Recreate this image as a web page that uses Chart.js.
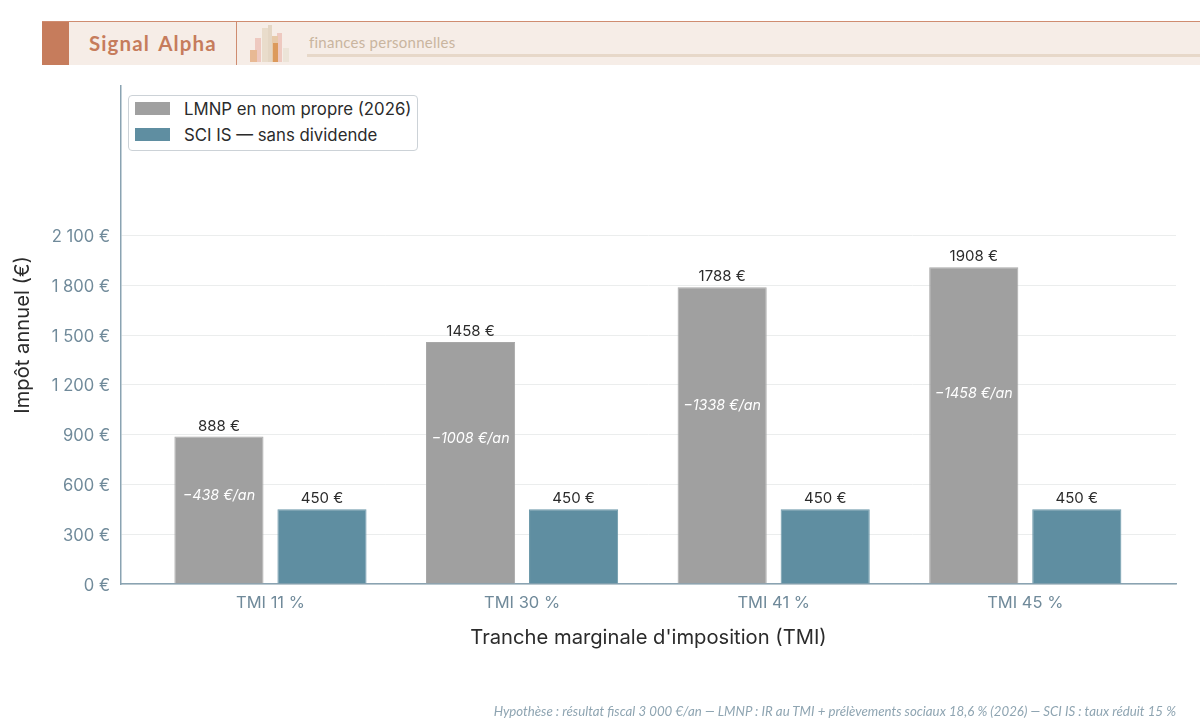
<!DOCTYPE html>
<html lang="fr">
<head>
<meta charset="utf-8">
<title>LMNP vs SCI IS</title>
<script src="https://cdn.jsdelivr.net/npm/chart.js@4"></script>
<style>
    html, body { margin: 0; padding: 0; background: #fff; }
    #page { position: relative; width: 1200px; height: 721px; overflow: hidden; font-family: Inter, sans-serif; }
    #chartCanvas { position: absolute; left: 0; top: 0; }
    #banner { position: absolute; left: 42px; top: 21px; width: 1158px; height: 44px; background: #f6ede7; border-top: 1px solid #cf8c70; box-sizing: border-box; }
    #bannerMark { position: absolute; left: 0; top: 0; width: 27px; height: 43px; background: #c67c5c; }
    #bannerName { position: absolute; left: 47px; top: 9px; font: bold 20.5px Lato, sans-serif; color: #c67c5c; letter-spacing: 1.1px; word-spacing: 3px; }
    #bannerSep { position: absolute; left: 194px; top: 0; width: 1px; height: 43px; background: #cf8c70; }
    #bannerTag { position: absolute; left: 267px; top: 11px; font: 15px Lato, sans-serif; color: #c9b59f; letter-spacing: 0.25px; }
    #bannerRule { position: absolute; left: 265px; top: 32px; right: 0; height: 3px; background: #e7d8c9; }
    .deco { position: absolute; }
    #legendBox { position: absolute; left: 128px; top: 95px; width: 290px; height: 56px; box-sizing: border-box; border: 1px solid #ccd2d7; border-radius: 4px; background: #fff; }
    .legendRow { position: absolute; left: 6px; height: 25px; font-size: 16.8px; line-height: 25px; color: #2b2b2b; white-space: nowrap; }
    .legendRow i { position: absolute; left: 0; top: 6px; width: 35px; height: 13px; }
    .legendRow span { position: absolute; left: 49px; top: 1px; }
    #footNote { position: absolute; right: 24px; top: 703px; font: italic 13.25px Lato, sans-serif; color: #8fa5b2; white-space: nowrap; }
</style>
</head>
<body>
<div id="page">
    <canvas id="chartCanvas" width="1200" height="721"></canvas>
    <div id="banner">
        <div id="bannerMark"></div>
        <div id="bannerName">Signal Alpha</div>
        <div id="bannerSep"></div>
        <div class="deco" style="left:213px;top:16px;width:6px;height:24px;background:#eec9c0"></div>
        <div class="deco" style="left:208px;top:28px;width:7px;height:12px;background:#e8b994"></div>
        <div class="deco" style="left:220px;top:6px;width:6px;height:34px;background:#e9dccb"></div>
        <div class="deco" style="left:226px;top:3px;width:4px;height:37px;background:#e4d6c4"></div>
        <div class="deco" style="left:235px;top:11px;width:5px;height:29px;background:#eec9c0"></div>
        <div class="deco" style="left:230px;top:14px;width:6px;height:26px;background:#e7c9a8"></div>
        <div class="deco" style="left:231px;top:21px;width:5px;height:19px;background:#dc9a5c"></div>
        <div class="deco" style="left:241px;top:26px;width:6px;height:14px;background:#ece4d8"></div>
        <div id="bannerTag">finances personnelles</div>
        <div id="bannerRule"></div>
    </div>
    <div id="legendBox"></div>
    <div id="footNote">Hypothèse : résultat fiscal 3 000 €/an — LMNP : IR au TMI + prélèvements sociaux 18,6 % (2026) — SCI IS : taux réduit 15 %</div>
</div>
<script>
// valeurs
const categories = ["TMI 11 %", "TMI 30 %", "TMI 41 %", "TMI 45 %"];
const lmnpValues = [888, 1458, 1788, 1908];
const sciValues = [450, 450, 450, 450];
const savingsLabels = ["−438 €/an", "−1008 €/an", "−1338 €/an", "−1458 €/an"];
const yTickValues = [0, 300, 600, 900, 1200, 1500, 1800, 2100];

const formatEuro = (v) => String(v).replace(/\B(?=(\d{3})+$)/g, " ") + " €";

// étiquettes au-dessus des barres + économie dans la barre grise
const barLabels = {
    id: "barLabels",
    afterDatasetsDraw(chart) {
        const { ctx, scales } = chart;
        ctx.save();
        ctx.textAlign = "center";
        chart.data.datasets.forEach((ds, d) => {
            chart.getDatasetMeta(d).data.forEach((bar, i) => {
                const value = ds.data[i].y;
                ctx.font = "15px Inter, sans-serif";
                ctx.fillStyle = "#2b2b2b";
                ctx.textBaseline = "bottom";
                ctx.fillText(value + " €", bar.x, bar.y - 3);
                if (d === 0) {
                    ctx.font = "italic 14.3px Inter, sans-serif";
                    ctx.fillStyle = "#ffffff";
                    ctx.textBaseline = "middle";
                    ctx.fillText(savingsLabels[i], bar.x, scales.y.getPixelForValue(value * 0.6));
                }
            });
        });
        ctx.restore();
    }
};

const chart = new Chart(document.getElementById("chartCanvas"), {
    type: "bar",
    plugins: [barLabels],
    data: {
        datasets: [
            {
                label: "LMNP en nom propre (2026)",
                data: lmnpValues.map((y, x) => ({ x, y })),
                backgroundColor: "#a0a0a0",
                borderColor: "#a8a8a8",
                borderWidth: 1
            },
            {
                label: "SCI IS — sans dividende",
                data: sciValues.map((y, x) => ({ x, y })),
                backgroundColor: "#5f8ea1",
                borderColor: "#6c98aa",
                borderWidth: 1
            }
        ]
    },
    options: {
        responsive: false,
        animation: false,
        devicePixelRatio: 1,
        categoryPercentage: 0.819,
        barPercentage: 0.865,
        layout: { padding: { top: 86, right: 24, bottom: 0, left: 0 } },
        plugins: { legend: { display: false }, tooltip: { enabled: false } },
        scales: {
            x: {
                type: "linear",
                offset: false,
                min: -0.594,
                max: 3.599,
                afterBuildTicks: (scale) => { scale.ticks = categories.map((c, i) => ({ value: i })); },
                afterFit: (scale) => { scale.height = 137; },
                ticks: {
                    callback: (v) => categories[v],
                    font: { family: "Inter", size: 16.5 },
                    color: "#708a9a",
                    padding: 1,
                    maxRotation: 0
                },
                grid: { display: false },
                border: { color: "#8aa3b2", width: 1.5 },
                title: {
                    display: true,
                    text: "Tranche marginale d'imposition (TMI)",
                    font: { family: "Inter", size: 20.2 },
                    color: "#2b2b2b",
                    padding: { top: 10, bottom: 71 }
                }
            },
            y: {
                min: 0,
                max: 3000,
                afterBuildTicks: (scale) => { scale.ticks = yTickValues.map((value) => ({ value })); },
                afterFit: (scale) => { scale.width = 121; },
                ticks: {
                    callback: (v) => formatEuro(v),
                    font: { family: "Inter", size: 16.6 },
                    color: "#708a9a",
                    padding: 11,
                    labelOffset: 1.5
                },
                grid: { color: "#ebeded", lineWidth: 1, drawTicks: false },
                border: { color: "#8aa3b2", width: 1.5 },
                title: {
                    display: true,
                    text: "Impôt annuel (€)",
                    font: { family: "Inter", size: 20.2 },
                    color: "#2b2b2b",
                    padding: { top: 11, bottom: 0 }
                }
            }
        }
    }
});

// légende construite à partir des jeux de données
const legendBox = document.getElementById("legendBox");
chart.data.datasets.forEach((ds, i) => {
    const row = document.createElement("div");
    row.className = "legendRow";
    row.style.top = (i === 0 ? 0 : 26) + "px";
    row.innerHTML = '<i style="background:' + ds.backgroundColor + '"></i><span>' + ds.label + "</span>";
    legendBox.appendChild(row);
});
</script>
</body>
</html>
